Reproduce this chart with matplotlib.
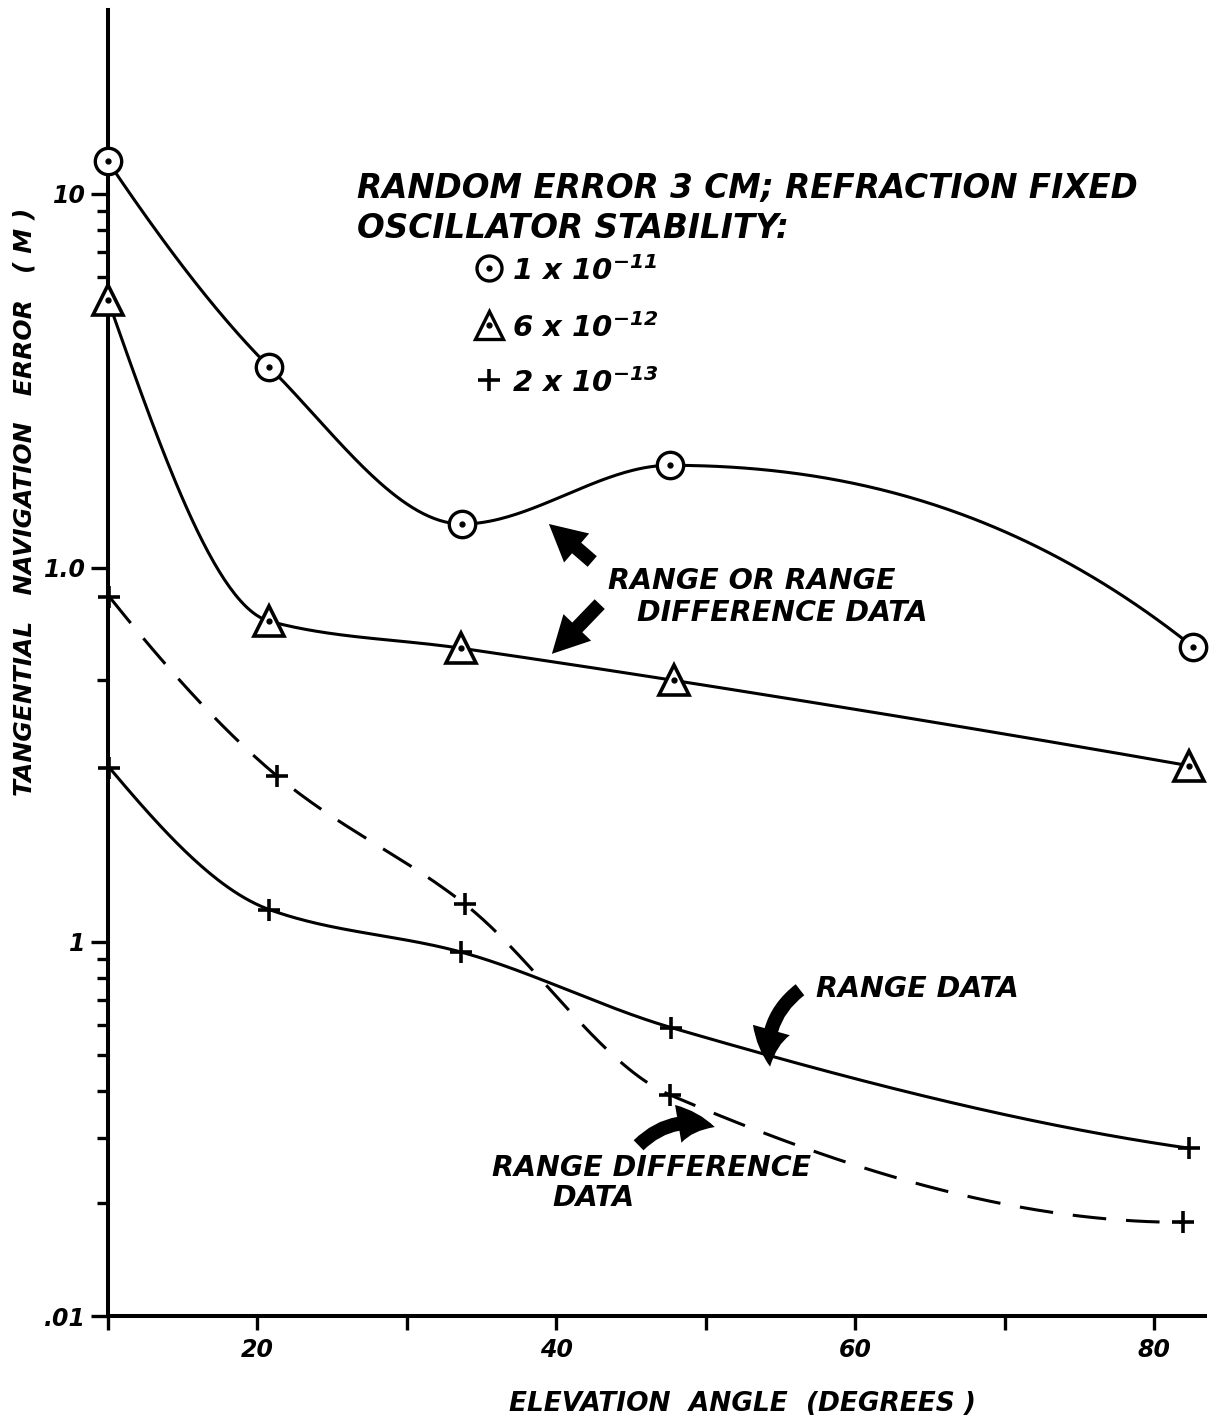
import numpy as np
import matplotlib
matplotlib.use("Agg")
import matplotlib.pyplot as plt
from matplotlib.patches import FancyArrowPatch
from matplotlib.ticker import FixedLocator, NullFormatter

# elevation angle (deg) and tangential error (m)
x_osc11 = [10.0, 20.8, 33.7, 47.6, 82.6]
err_osc11 = [12.2, 3.44, 1.31, 1.88, 0.615]

x_osc12 = [10.0, 20.8, 33.6, 47.9, 82.3]
err_osc12 = [5.2, 0.72, 0.61, 0.50, 0.296]

x_range = [10.1, 20.8, 33.6, 47.7, 82.3]
err_range = [0.292, 0.122, 0.094, 0.059, 0.0281]

x_rdiff = [10.1, 21.3, 33.9, 47.6, 81.9]
err_rdiff = [0.836, 0.278, 0.126, 0.039, 0.0178]

y_ticks = [0.01, 0.1, 1.0, 10.0]
y_tick_labels = [".01", "1", "1.0", "10"]
y_minor = [6, 7, 8, 9, 0.5] + [k / 100 for k in range(2, 10)]
x_ticks = [10, 20, 30, 40, 50, 60, 70, 80]
x_tick_labels = ["", "20", "", "40", "", "60", "", "80"]

W, H = 1215, 1420
FONT = dict(family="DejaVu Sans", style="italic", weight="bold")

plt.rcParams["mathtext.fontset"] = "custom"
plt.rcParams["mathtext.rm"] = "DejaVu Sans:italic:bold"
plt.rcParams["mathtext.default"] = "rm"


def pchip(x, y, xs):
    # monotone cubic through the points, so the curve does not overshoot
    x = np.asarray(x, float)
    y = np.asarray(y, float)
    h = np.diff(x)
    d = np.diff(y) / h
    n = len(x)
    m = np.zeros(n)
    for k in range(1, n - 1):
        if d[k - 1] * d[k] > 0:
            w1 = 2 * h[k] + h[k - 1]
            w2 = h[k] + 2 * h[k - 1]
            m[k] = (w1 + w2) / (w1 / d[k - 1] + w2 / d[k])

    def end(h0, h1, d0, d1):
        s = ((2 * h0 + h1) * d0 - h0 * d1) / (h0 + h1)
        if np.sign(s) != np.sign(d0):
            return 0.0
        if np.sign(d0) != np.sign(d1) and abs(s) > abs(3 * d0):
            return 3 * d0
        return s

    m[0] = end(h[0], h[1], d[0], d[1])
    m[-1] = end(h[-1], h[-2], d[-1], d[-2])
    idx = np.clip(np.searchsorted(x, xs) - 1, 0, n - 2)
    t = (xs - x[idx]) / h[idx]
    h00 = 2 * t**3 - 3 * t**2 + 1
    h10 = t**3 - 2 * t**2 + t
    h01 = -2 * t**3 + 3 * t**2
    h11 = t**3 - t**2
    return (h00 * y[idx] + h10 * h[idx] * m[idx]
            + h01 * y[idx + 1] + h11 * h[idx] * m[idx + 1])


def smooth(x, y):
    xs = np.linspace(x[0], x[-1], 400)
    return xs, 10 ** pchip(x, np.log10(y), xs)


def fpos(px, py):
    return px / W, 1 - py / H


fig = plt.figure(figsize=(W / 100, H / 100), dpi=100)
ax = fig.add_axes([108 / W, 104 / H, 1097 / W, 1306 / H])
ax.set_yscale("log")
ax.set_xlim(10, 83.4)
ax.set_ylim(0.01, 31)

lw = 2.2
for xv, yv, ls in [(x_osc11, err_osc11, "-"), (x_osc12, err_osc12, "-"),
                   (x_range, err_range, "-"), (x_rdiff, err_rdiff, (0, (11, 6.5)))]:
    xs, ys = smooth(xv, yv)
    ax.plot(xs, ys, color="black", lw=lw, ls=ls, clip_on=False, zorder=2)

ax.plot(x_osc11, err_osc11, "o", ms=19, mfc="white", mec="black", mew=2.4,
        clip_on=False, zorder=4)
ax.plot(x_osc11, err_osc11, "o", ms=3.5, color="black", clip_on=False, zorder=5)
ax.plot(x_osc12, err_osc12, "^", ms=21, mfc="white", mec="black", mew=2.6,
        clip_on=False, zorder=4)
ax.plot(x_osc12, err_osc12, "o", ms=3.5, color="black", clip_on=False, zorder=5)
ax.plot(x_range, err_range, "+", ms=16, color="black", mew=2.6, clip_on=False, zorder=4)
ax.plot(x_rdiff, err_rdiff, "+", ms=16, color="black", mew=2.6, clip_on=False, zorder=4)

# axes
for s in ["top", "right"]:
    ax.spines[s].set_visible(False)
for s in ["left", "bottom"]:
    ax.spines[s].set_linewidth(2.9)

ax.set_yticks(y_ticks)
ax.set_yticklabels(y_tick_labels, fontsize=17, **FONT)
ax.yaxis.set_minor_locator(FixedLocator(y_minor))
ax.yaxis.set_minor_formatter(NullFormatter())
ax.tick_params(axis="y", which="major", length=12, width=2.4, pad=4)
ax.tick_params(axis="y", which="minor", length=8, width=2.4)
ax.set_xticks(x_ticks)
ax.set_xticklabels(x_tick_labels, fontsize=17, **FONT)
ax.tick_params(axis="x", which="major", length=10, width=2.4, pad=6)
ax.tick_params(axis="x", which="minor", bottom=False)

fig.text(*fpos(25, 502), "TANGENTIAL   NAVIGATION   ERROR   ( M )", rotation=90,
         ha="center", va="center", fontsize=18, **FONT)
fig.text(*fpos(742, 1404), "ELEVATION  ANGLE  (DEGREES )", ha="center",
         va="center", fontsize=19, **FONT)

# key
fig.text(*fpos(357, 188), "RANDOM ERROR 3 CM; REFRACTION FIXED", ha="left",
         va="center", fontsize=23.5, **FONT)
fig.text(*fpos(357, 228), "OSCILLATOR STABILITY:", ha="left", va="center",
         fontsize=23.5, **FONT)
key = [("o", 18, 268, r"1 x 10$^{-11}$"), ("^", 20, 325, r"6 x 10$^{-12}$"),
       ("+", 16, 380, r"2 x 10$^{-13}$")]
for mk, size, py, lab in key:
    fx, fy = fpos(489, py)
    if mk == "+":
        ax.plot([fx], [fy], mk, ms=size, color="black", mew=2.6,
                transform=fig.transFigure, clip_on=False)
    else:
        ax.plot([fx], [fy], mk, ms=size, mfc="white", mec="black", mew=2.4,
                transform=fig.transFigure, clip_on=False)
        ax.plot([fx], [fy], "o", ms=3.5, color="black",
                transform=fig.transFigure, clip_on=False)
    fig.text(*fpos(512, py + 3), lab, ha="left", va="center", fontsize=21, **FONT)

# callouts
fs = 20.5
fig.text(*fpos(608, 581), "RANGE OR RANGE", ha="left", va="center", fontsize=fs, **FONT)
fig.text(*fpos(637, 613), "DIFFERENCE DATA", ha="left", va="center", fontsize=fs, **FONT)
fig.text(*fpos(816, 989), "RANGE DATA", ha="left", va="center", fontsize=fs, **FONT)
fig.text(*fpos(492, 1168), "RANGE DIFFERENCE", ha="left", va="center", fontsize=fs, **FONT)
fig.text(*fpos(552, 1198), "DATA", ha="left", va="center", fontsize=fs, **FONT)

arrow_style = "simple,head_length=1.1,head_width=1.15,tail_width=0.42"
arrows = [((42.4, 1.04), (39.5, 1.31), 0.0),
          ((42.9, 0.80), (39.7, 0.589), 0.0),
          ((56.3, 0.0745), (54.3, 0.0464), 0.3),
          ((45.5, 0.0286), (50.6, 0.032), -0.3)]
for tail, tip, rad in arrows:
    ax.add_patch(FancyArrowPatch(tail, tip, arrowstyle=arrow_style,
                                 connectionstyle=f"arc3,rad={rad}",
                                 mutation_scale=24, color="black", lw=0,
                                 shrinkA=0, shrinkB=0, zorder=6))

fig.savefig("out.png", dpi=100, facecolor="white")
